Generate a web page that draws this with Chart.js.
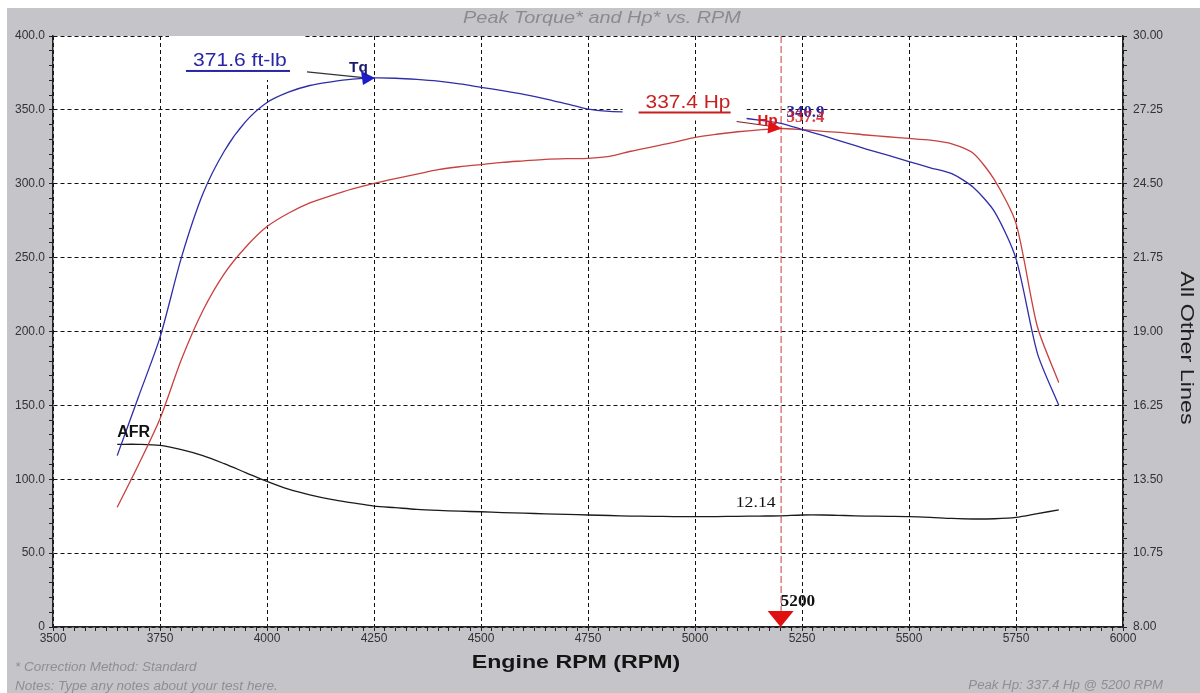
<!DOCTYPE html>
<html>
<head>
<meta charset="utf-8">
<script src="https://cdn.jsdelivr.net/npm/chart.js@4.4.1/dist/chart.umd.min.js"></script>
<style>
  html, body { margin: 0; padding: 0; background: #fff; overflow: hidden; }
  canvas { display: block; }
</style>
</head>
<body>
<canvas id="dyno" width="1200" height="693"></canvas>
<script>
// dyno pull data
let rpm = [3650, 3700, 3750, 3800, 3850, 3900, 3950, 4000, 4050, 4100, 4150, 4200, 4250, 4300, 4350,
	4400, 4450, 4500, 4550, 4600, 4650, 4700, 4750, 4800, 4850, 4900, 4950, 5000, 5050, 5100,
	5150, 5200, 5250, 5300, 5350, 5400, 5450, 5500, 5550, 5600, 5650, 5700, 5750, 5800, 5850]

let torque = [116, 156, 196, 250, 293, 322, 342, 355, 362, 366.5, 369, 370.8, 371.6, 371.4, 370.6,
	369.4, 367.6, 365.3, 363, 360.5, 357.5, 354, 350.5, 349, 348.5, 348.3, 348.2, 348, 347, 345,
	343, 340.9, 336.8, 332.5, 328, 323.5, 319.3, 315, 310.8, 306.8, 297.6, 281, 249.3, 185.2, 150]

let hp = [81, 110, 141, 181, 214, 239, 257, 271, 280, 287, 292, 296.5, 300.3, 303.5, 306.5,
	309.5, 311.5, 313, 314.5, 315.5, 316.5, 317, 317.2, 318.5, 322, 325, 328, 331.4, 333.5, 335.2,
	336.5, 337.4, 336.6, 335.5, 334.5, 333, 331.8, 330.7, 329.5, 327, 320.6, 302.5, 273.2, 203.2, 165.4]

let afr = [14.80, 14.80, 14.76, 14.60, 14.38, 14.08, 13.75, 13.42, 13.13, 12.92, 12.75, 12.62, 12.50, 12.44, 12.38,
	12.34, 12.31, 12.29, 12.26, 12.24, 12.21, 12.19, 12.17, 12.15, 12.13, 12.12, 12.11, 12.11, 12.11, 12.12,
	12.13, 12.14, 12.17, 12.17, 12.15, 12.13, 12.12, 12.11, 12.08, 12.04, 12.02, 12.03, 12.08, 12.22, 12.36]

// axis ticks
let rpmTicks = [3500, 3750, 4000, 4250, 4500, 4750, 5000, 5250, 5500, 5750, 6000]
let leftTicks = [0, 50, 100, 150, 200, 250, 300, 350, 400]
let rightTicks = [8.00, 10.75, 13.50, 16.25, 19.00, 21.75, 24.50, 27.25, 30.00]

let sans = 'Liberation Sans, Arial, sans-serif'
let serif = 'Liberation Serif, Times New Roman, serif'
let bgGray = '#c5c4c9'

let toPoints = (vals) => rpm.map((r, i) => ({ x: r, y: vals[i] }))

// minor ticks between the labelled ones
let withMinor = (major, parts) => {
	let out = []
	for (let i = 0; i < major.length - 1; i++) {
		let step = (major[i + 1] - major[i]) / parts
		for (let k = 0; k < parts; k++) out.push({ value: major[i] + k * step, major: k === 0 })
	}
	out.push({ value: major[major.length - 1], major: true })
	return out
}

let isMajor = (ctx) => ctx.tick && ctx.tick.major
let gridColor = (ctx) => isMajor(ctx) ? '#111' : 'rgba(0,0,0,0)'

// the dyno software's text is a bit wider than Arial
let wideText = (ctx, txt, x, y, sx) => {
	ctx.save()
	ctx.translate(x, y)
	ctx.scale(sx, 1)
	ctx.fillText(txt, 0, 0)
	ctx.restore()
}

let frame = {
	id: 'frame',
	beforeDraw(chart) {
		let { ctx, chartArea: a } = chart
		ctx.save()
		ctx.fillStyle = '#fff'
		ctx.fillRect(0, 0, chart.width, chart.height)
		ctx.fillStyle = bgGray
		ctx.fillRect(7, 8, chart.width - 7, chart.height - 8)
		ctx.fillStyle = '#fff'
		ctx.fillRect(a.left, a.top, a.right - a.left, a.bottom - a.top)
		ctx.restore()
	},
	afterDatasetsDraw(chart) {
		let { ctx, chartArea: a, scales } = chart
		let sx = scales.x, sy = scales.y
		ctx.save()

		// peak values
		let iTq = torque.indexOf(Math.max(...torque))
		let iHp = hp.indexOf(Math.max(...hp))
		let tqX = sx.getPixelForValue(rpm[iTq]), tqY = sy.getPixelForValue(torque[iTq])
		let hpX = sx.getPixelForValue(rpm[iHp]), hpY = sy.getPixelForValue(hp[iHp])

		// label boxes
		ctx.fillStyle = '#fff'
		ctx.fillRect(tqX - 205, a.top, 135, tqY - a.top + 2)
		ctx.fillRect(hpX - 158, hpY - 35, 124, 27)

		// torque peak label
		ctx.font = '18px ' + sans
		ctx.fillStyle = '#2626a6'
		ctx.textBaseline = 'middle'
		ctx.textAlign = 'left'
		wideText(ctx, torque[iTq].toFixed(1) + ' ft-lb', tqX - 181, tqY - 17, 1.17)
		ctx.fillRect(tqX - 188, tqY - 8, 104, 2)
		ctx.strokeStyle = '#333'
		ctx.lineWidth = 1.2
		ctx.beginPath()
		ctx.moveTo(tqX - 67, tqY - 6)
		ctx.lineTo(tqX - 8, tqY)
		ctx.stroke()
		ctx.fillStyle = '#1c1cc8'
		ctx.beginPath()
		ctx.moveTo(tqX + 1, tqY)
		ctx.lineTo(tqX - 13, tqY - 7)
		ctx.lineTo(tqX - 11, tqY + 7)
		ctx.closePath()
		ctx.fill()
		ctx.font = 'bold 14px ' + sans
		ctx.fillStyle = '#1a1a70'
		wideText(ctx, 'Tq', tqX - 25, tqY - 10, 1.1)

		// hp peak label
		ctx.font = '18px ' + sans
		ctx.fillStyle = '#c81e1e'
		wideText(ctx, hp[iHp].toFixed(1) + ' Hp', hpX - 135, hpY - 25, 1.16)
		ctx.fillRect(hpX - 142, hpY - 17, 92, 2)
		ctx.strokeStyle = '#7a2020'
		ctx.beginPath()
		ctx.moveTo(hpX - 44, hpY - 7)
		ctx.lineTo(hpX - 8, hpY - 2)
		ctx.stroke()
		ctx.fillStyle = '#e01414'
		ctx.beginPath()
		ctx.moveTo(hpX + 1, hpY)
		ctx.lineTo(hpX - 12, hpY - 8)
		ctx.lineTo(hpX - 13, hpY + 5)
		ctx.closePath()
		ctx.fill()
		ctx.font = 'bold 15px ' + sans
		wideText(ctx, 'Hp', hpX - 23, hpY - 8, 1)

		// cursor line at peak hp
		ctx.strokeStyle = 'rgba(195,40,40,0.9)'
		ctx.lineWidth = 1
		ctx.setLineDash([7, 3])
		ctx.beginPath()
		ctx.moveTo(hpX + 0.5, a.top)
		ctx.lineTo(hpX + 0.5, a.bottom)
		ctx.stroke()
		ctx.setLineDash([])
		ctx.fillStyle = '#e01010'
		ctx.beginPath()
		ctx.moveTo(hpX - 13, a.bottom - 16)
		ctx.lineTo(hpX + 13, a.bottom - 16)
		ctx.lineTo(hpX, a.bottom)
		ctx.closePath()
		ctx.fill()
		ctx.font = 'bold 16px ' + serif
		ctx.fillStyle = '#111'
		wideText(ctx, String(rpm[iHp]), hpX, a.bottom - 25, 1.08)

		// cursor readouts
		ctx.font = 'bold 16px ' + serif
		ctx.fillStyle = '#2626a6'
		wideText(ctx, torque[iHp].toFixed(1), hpX + 6, hpY - 16, 1.05)
		ctx.fillStyle = 'rgba(210,30,30,0.85)'
		wideText(ctx, hp[iHp].toFixed(1), hpX + 6, hpY - 11, 1.05)
		ctx.font = '15px ' + serif
		ctx.fillStyle = '#111'
		ctx.textAlign = 'right'
		wideText(ctx, afr[iHp].toFixed(2), hpX - 5, scales.y2.getPixelForValue(afr[iHp]) - 13, 1.18)

		// AFR tag
		ctx.textAlign = 'left'
		ctx.font = 'bold 16px ' + sans
		ctx.fillText('AFR', sx.getPixelForValue(rpm[0]), scales.y2.getPixelForValue(afr[0]) - 12)
		ctx.restore()
	},
	afterDraw(chart) {
		let { ctx } = chart
		let iHp = hp.indexOf(Math.max(...hp))
		ctx.save()
		ctx.textBaseline = 'middle'
		ctx.textAlign = 'center'
		ctx.font = 'italic 17px ' + sans
		ctx.fillStyle = '#8b8b8f'
		wideText(ctx, 'Peak Torque* and Hp* vs. RPM', 602, 18, 1.17)

		ctx.font = 'bold 19px ' + sans
		ctx.fillStyle = '#151515'
		wideText(ctx, 'Engine RPM (RPM)', 576, 663, 1.22)

		ctx.save()
		ctx.translate(1186, 348)
		ctx.rotate(Math.PI / 2)
		ctx.font = '18px ' + sans
		ctx.fillStyle = '#202020'
		wideText(ctx, 'All Other Lines', 0, 0, 1.3)
		ctx.restore()

		ctx.font = 'italic 12px ' + sans
		ctx.fillStyle = '#8e8e94'
		ctx.textAlign = 'left'
		wideText(ctx, '* Correction Method: Standard', 15, 668, 1.12)
		wideText(ctx, 'Notes: Type any notes about your test here.', 15, 687, 1.13)
		ctx.textAlign = 'right'
		wideText(ctx, 'Peak Hp: ' + hp[iHp].toFixed(1) + ' Hp @ ' + rpm[iHp] + ' RPM', 1163, 686, 1.1)
		ctx.restore()
	}
}

let tickFont = { family: sans, size: 12 }

new Chart(document.getElementById('dyno'), {
	type: 'line',
	data: {
		datasets: [
			{ label: 'Tq', data: toPoints(torque), yAxisID: 'y', borderColor: '#2e2ea8', borderWidth: 1.3, tension: 0.25 },
			{ label: 'Hp', data: toPoints(hp), yAxisID: 'y', borderColor: '#c84040', borderWidth: 1.3, tension: 0.25 },
			{ label: 'AFR', data: toPoints(afr), yAxisID: 'y2', borderColor: '#1a1a1a', borderWidth: 1.3, tension: 0.3 },
		]
	},
	options: {
		responsive: false,
		animation: false,
		devicePixelRatio: 1,
		layout: { padding: { top: 36, left: 0, right: 0, bottom: 0 } },
		elements: { point: { radius: 0 } },
		plugins: { legend: { display: false }, tooltip: { enabled: false } },
		scales: {
			x: {
				type: 'linear', min: 3500, max: 6000,
				afterBuildTicks: s => { s.ticks = withMinor(rpmTicks, 10) },
				afterFit: s => { s.height = 66 },
				grid: { color: gridColor, tickColor: '#222', tickLength: 4, lineWidth: 1 },
				border: { color: '#222', width: 1.5, dash: [4, 3] },
				ticks: { autoSkip: false, maxRotation: 0, padding: 0, color: '#333', font: tickFont,
					callback: (v, i, t) => t[i].major ? String(v) : '' }
			},
			y: {
				position: 'left', min: 0, max: 400,
				afterBuildTicks: s => { s.ticks = withMinor(leftTicks, 5) },
				afterFit: s => { s.width = 53 },
				grid: { color: gridColor, tickColor: '#222', tickLength: 4, lineWidth: 1 },
				border: { color: '#222', width: 1.5, dash: [4, 3] },
				ticks: { autoSkip: false, padding: 4, color: '#333', font: tickFont,
					callback: (v, i, t) => t[i].major ? (v === 0 ? '0' : v.toFixed(1)) : '' }
			},
			y2: {
				position: 'right', min: 8, max: 30,
				afterBuildTicks: s => { s.ticks = withMinor(rightTicks, 5) },
				afterFit: s => { s.width = 77 },
				grid: { drawOnChartArea: false, tickColor: '#222', tickLength: 4 },
				border: { color: '#222', width: 1.5 },
				ticks: { autoSkip: false, padding: 6, color: '#333', font: tickFont,
					callback: (v, i, t) => t[i].major ? v.toFixed(2) : '' }
			}
		}
	},
	plugins: [frame]
});
</script>
</body>
</html>
